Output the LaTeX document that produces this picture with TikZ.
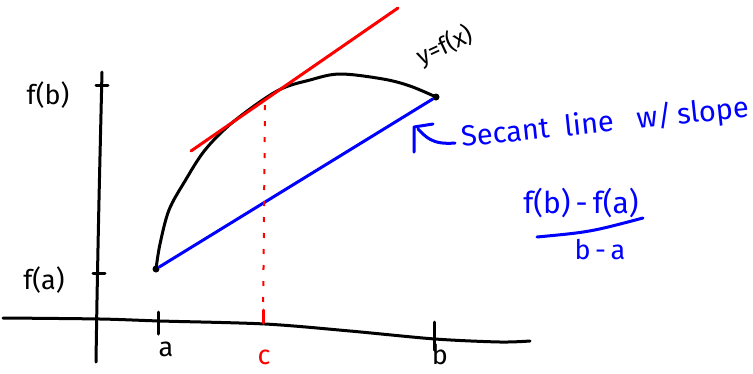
\documentclass[tikz,border=0pt]{standalone}
\usepackage{fontspec}
\setmainfont{Fira Sans}
\tikzset{
  ink/.style={line width=3pt, line cap=round, line join=round},
  lbl/.style={inner sep=0pt, font=\fontsize{27}{29}\selectfont},
  bluelbl/.style={lbl, text=blue},
  dot/.style={circle, fill=black, inner sep=0pt, minimum size=7pt}
}
\begin{document}
\begin{tikzpicture}[x=1pt,y=-1pt]
\useasboundingbox (0,0) rectangle (753,373);
% axes
\draw[ink] plot[smooth] coordinates {(3,318) (100,319) (160,321) (265,324) (350,331) (435,339) (500,342) (530,341)};
\draw[ink] plot[smooth] coordinates {(102,72) (99,200) (97,300) (96,362)};
% y ticks
\coordinate (fbl) at (96,85); \coordinate (fbr) at (108,85);
\coordinate (fal) at (93,273); \coordinate (far) at (105,273);
\draw[ink] (fbl) -- (fbr);
\draw[ink] (fal) -- (far);
\node[lbl] (fb) at (48,95) {f(b)};
\node[lbl] (fa) at (44,280) {f(a)};
% x ticks
\coordinate (at1) at (158,312); \coordinate (at2) at (158,334);
\coordinate (bt1) at (434,322); \coordinate (bt2) at (434,350);
\coordinate (ct1) at (263,310); \coordinate (ct2) at (263,323);
\draw[ink] (at1) -- (at2);
\draw[ink] (bt1) -- (bt2);
\draw[ink, red] (ct1) -- (ct2);
\node[lbl] (alab) at (166,349) {a};
\node[lbl, text=red] (clab) at (264,357) {c};
\node[lbl] (blab) at (440,355) {b};
% function curve
\node[dot] (A) at (156,269) {};
\node[dot] (B) at (436,97) {};
\draw[ink] plot[smooth, tension=0.55] coordinates {(156,269) (160,244) (169,210) (185,181) (205,150) (233,122) (277,91) (310,80) (340,74) (383,79) (410,86) (436,97)};
% secant
\draw[ink, blue] (A) -- (B);
% tangent
\coordinate (t1) at (191,151); \coordinate (t2) at (398,8);
\draw[ink, red] (t1) -- (t2);
% dotted vertical
\coordinate (d1) at (265,105); \coordinate (d2) at (263,322);
\draw[red, line width=2pt, dash pattern=on 5pt off 11pt] (d1) -- (d2);
% y=f(x)
\node[lbl, rotate=25, font=\fontsize{24}{26}\selectfont] (yfx) at (445,46) {y=f(x)};
% arrow
\coordinate (ar0) at (455,143); \coordinate (ar1) at (418,129);
\coordinate (ah1) at (414,152); \coordinate (ah2) at (433,124); \coordinate (tip) at (414,127);
\draw[ink, blue] (ar0) .. controls (432,145) and (426,137) .. (ar1);
\draw[ink, blue] (ah1) -- (tip) -- (ah2);
\node[bluelbl, rotate=6, anchor=base west, font=\fontsize{29}{31}\selectfont] (sec) at (462,147) {Secant\ \ line\ \ \ w/\,slope};
% fraction
\node[bluelbl, font=\fontsize{30}{32}\selectfont] (num) at (581,203) {f(b)\,-\,f(a)};
\coordinate (bar1) at (537,237); \coordinate (bar2) at (643,218);
\draw[ink, blue] (bar1) .. controls (590,232) .. (bar2);
\node[bluelbl] (den) at (600,250) {b\,-\,a};
\end{tikzpicture}
\end{document}
